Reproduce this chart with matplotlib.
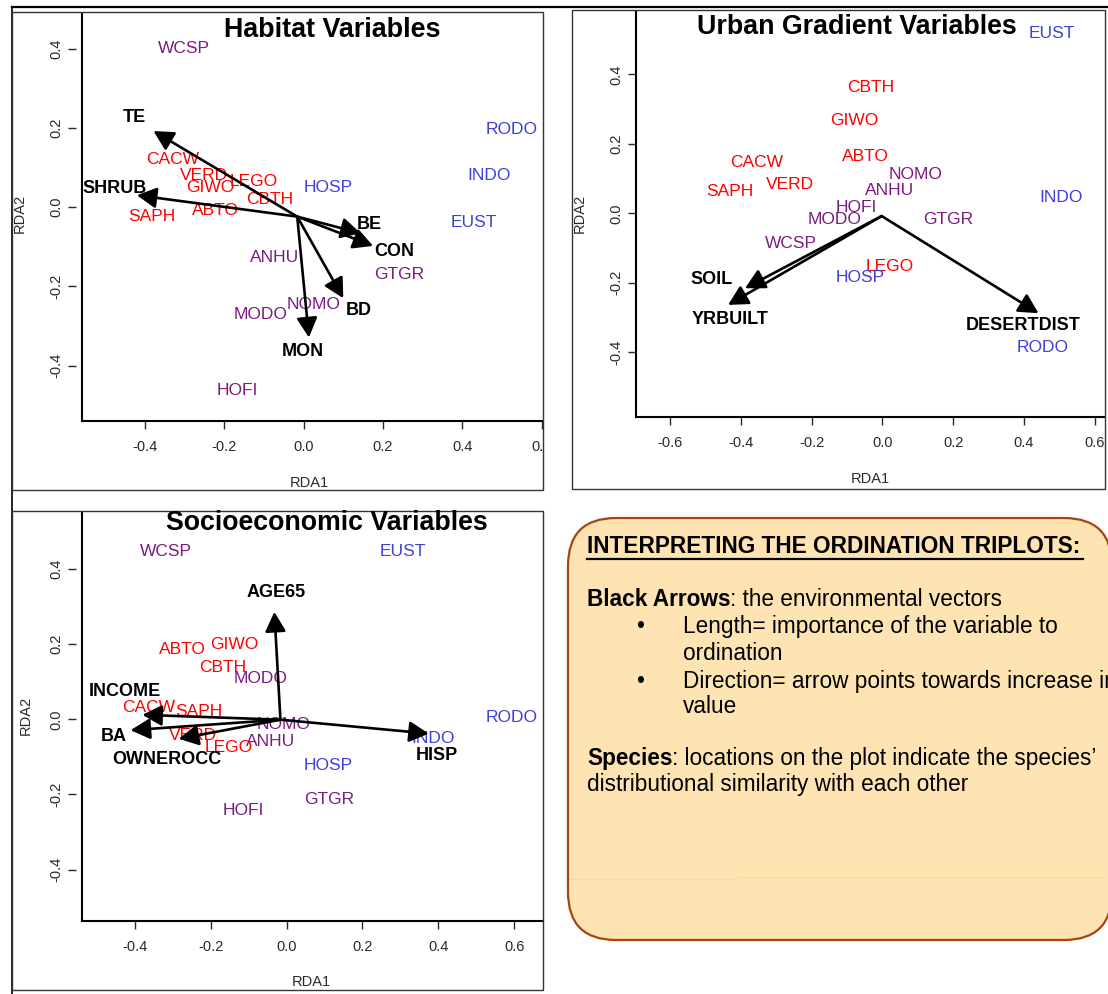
import matplotlib
matplotlib.use('Agg')
import matplotlib.pyplot as plt
from matplotlib.patches import FancyBboxPatch, Rectangle

plt.rcParams['font.family'] = ['Liberation Sans', 'DejaVu Sans']

W, H = 1108, 994

# ---------------- data ----------------
group_red = ['CACW', 'VERD', 'GIWO', 'LEGO', 'CBTH', 'SAPH', 'ABTO']
group_purple = ['WCSP', 'ANHU', 'GTGR', 'NOMO', 'MODO', 'HOFI']
group_blue = ['HOSP', 'RODO', 'INDO', 'EUST']

# Habitat Variables
hab_species = ['WCSP', 'CACW', 'VERD', 'GIWO', 'LEGO', 'CBTH', 'SAPH', 'ABTO', 'HOSP',
               'RODO', 'INDO', 'EUST', 'ANHU', 'GTGR', 'NOMO', 'MODO', 'HOFI']
hab_x = [-0.301, -0.330, -0.250, -0.234, -0.126, -0.086, -0.382, -0.221, 0.063,
         0.523, 0.466, 0.429, -0.072, 0.241, 0.024, -0.108, -0.166]
hab_y = [0.400, 0.120, 0.079, 0.050, 0.064, 0.019, -0.023, -0.008, 0.050,
         0.197, 0.079, -0.040, -0.127, -0.169, -0.245, -0.272, -0.463]
hab_vars = ['TE', 'SHRUB', 'BE', 'CON', 'BD', 'MON']
hab_vx = [-0.378, -0.420, 0.144, 0.175, 0.100, 0.0135]
hab_vy = [0.192, 0.030, -0.066, -0.098, -0.230, -0.329]
hab_lx = [-0.425, -0.475, 0.166, 0.229, 0.139, -0.002]
hab_ly = [0.226, 0.047, -0.043, -0.113, -0.262, -0.365]
hab_origin = (-0.016, -0.024)

# Urban Gradient Variables
urb_species = ['EUST', 'CBTH', 'GIWO', 'CACW', 'ABTO', 'NOMO', 'SAPH', 'VERD', 'ANHU',
               'INDO', 'HOFI', 'MODO', 'GTGR', 'WCSP', 'LEGO', 'HOSP', 'RODO']
urb_x = [0.478, -0.032, -0.080, -0.356, -0.048, 0.094, -0.430, -0.262, 0.021,
         0.506, -0.073, -0.136, 0.187, -0.257, 0.021, -0.063, 0.454]
urb_y = [0.518, 0.363, 0.267, 0.147, 0.163, 0.113, 0.064, 0.082, 0.065,
         0.046, 0.016, -0.019, -0.019, -0.088, -0.154, -0.185, -0.387]
urb_vars = ['SOIL', 'YRBUILT', 'DESERTDIST']
urb_vx = [-0.388, -0.436, 0.441]
urb_vy = [-0.216, -0.264, -0.288]
urb_lx = [-0.482, -0.431, 0.398]
urb_ly = [-0.192, -0.305, -0.324]
urb_origin = (-0.002, -0.008)

# Socioeconomic Variables
soc_species = ['WCSP', 'EUST', 'ABTO', 'GIWO', 'CBTH', 'MODO', 'CACW', 'SAPH', 'RODO',
               'NOMO', 'VERD', 'LEGO', 'ANHU', 'INDO', 'HOSP', 'GTGR', 'HOFI']
soc_x = [-0.317, 0.307, -0.275, -0.137, -0.169, -0.068, -0.364, -0.231, 0.593,
         -0.007, -0.247, -0.153, -0.042, 0.387, 0.111, 0.113, -0.115]
soc_y = [0.446, 0.446, 0.186, 0.200, 0.139, 0.108, 0.031, 0.020, 0.004,
         -0.013, -0.043, -0.074, -0.058, -0.050, -0.123, -0.213, -0.242]
soc_vars = ['AGE65', 'INCOME', 'BA', 'OWNEROCC', 'HISP']
soc_vx = [-0.032, -0.380, -0.411, -0.284, 0.375]
soc_vy = [0.286, 0.012, -0.029, -0.052, -0.038]
soc_lx = [-0.028, -0.426, -0.456, -0.314, 0.395]
soc_ly = [0.337, 0.075, -0.047, -0.107, -0.096]
soc_origin = (-0.016, -0.001)

ticks_x_hab = [-0.4, -0.2, 0.0, 0.2, 0.4, 0.6]
ticks_x_urb = [-0.6, -0.4, -0.2, 0.0, 0.2, 0.4, 0.6]
ticks_x_soc = [-0.4, -0.2, 0.0, 0.2, 0.4, 0.6]
ticks_y = [-0.4, -0.2, 0.0, 0.2, 0.4]

# ---------------- style ----------------
COL_RED = '#FF0000'
COL_PURPLE = '#7A1C7E'
COL_BLUE = '#3F3FD9'
TICKCOL = '#2a2a2a'


def species_color(s):
    if s in group_red:
        return COL_RED
    if s in group_purple:
        return COL_PURPLE
    return COL_BLUE


fig = plt.figure(figsize=(W / 100, H / 100), dpi=100)
fig.patch.set_facecolor('white')


def px_axes(l, t, r, b):
    return fig.add_axes([l / W, 1 - b / H, (r - l) / W, (b - t) / H])


def setup(ax, xlim, ylim, xt, yt, detached, ypad):
    if detached:
        ax.spines['left'].set_position(('outward', 4.5))
        ax.spines['left'].set_visible(False)
        ax.plot([0, 0], [0, 1], transform=ax.transAxes, color='black', lw=1.5,
                clip_on=False, solid_capstyle='butt')
    ax.set_xlim(*xlim)
    ax.set_ylim(*ylim)
    for s in ['top', 'right']:
        ax.spines[s].set_visible(False)
    ax.spines['bottom'].set_linewidth(1.5)
    ax.spines['left'].set_linewidth(1.5)
    ax.set_xticks(xt)
    ax.set_xticklabels([f'{v:.1f}' for v in xt])
    ax.set_yticks(yt)
    ax.set_yticklabels([f'{v:.1f}' for v in yt], rotation=90, va='center')
    ax.tick_params(axis='both', direction='out', length=5.5, width=1,
                   labelsize=10.5, colors=TICKCOL)
    ax.tick_params(axis='x', pad=8.5)
    ax.tick_params(axis='y', pad=ypad)
    ax.patch.set_alpha(0)


def draw_panel(ax, species, sx, sy, vars_, vx, vy, lx, ly, origin):
    for s, x, y in zip(species, sx, sy):
        ax.text(x, y, s, color=species_color(s), fontsize=12.5,
                ha='center', va='center', zorder=3)
    for v, x, y, tx, ty in zip(vars_, vx, vy, lx, ly):
        ax.annotate('', xy=(x, y), xytext=origin,
                    arrowprops=dict(arrowstyle='-|>,head_length=0.85,head_width=0.45',
                                    lw=1.9, color='black', shrinkA=0, shrinkB=0,
                                    mutation_scale=14), zorder=4)
        ax.text(tx, ty, v, color='black', fontsize=13, fontweight='bold',
                ha='center', va='center', zorder=5)


# Habitat panel
ax1 = px_axes(82, 13, 543, 421)
setup(ax1, (-0.558, 0.603), (-0.54, 0.49), ticks_x_hab, ticks_y, True, 3.5)
draw_panel(ax1, hab_species, hab_x, hab_y, hab_vars, hab_vx, hab_vy, hab_lx, hab_ly, hab_origin)

# Urban panel
ax2 = px_axes(636, 12, 1104, 417)
setup(ax2, (-0.696, 0.626), (-0.587, 0.58), ticks_x_urb, ticks_y, False, 3.5)
draw_panel(ax2, urb_species, urb_x, urb_y, urb_vars, urb_vx, urb_vy, urb_lx, urb_ly, urb_origin)

# Socioeconomic panel
ax3 = px_axes(82, 512, 543, 921)
setup(ax3, (-0.539, 0.676), (-0.537, 0.552), ticks_x_soc, ticks_y, True, 3.5)
draw_panel(ax3, soc_species, soc_x, soc_y, soc_vars, soc_vx, soc_vy, soc_lx, soc_ly, soc_origin)

# ---------------- overlay (pixel coordinates) ----------------
ov = fig.add_axes([0, 0, 1, 1], zorder=10)
ov.set_xlim(0, W)
ov.set_ylim(H, 0)
ov.axis('off')
ov.patch.set_visible(False)

# white gaps clipping panel edges
ov.add_patch(Rectangle((544, 0), 27.5, H, facecolor='white', edgecolor='none', zorder=1))
ov.add_patch(Rectangle((1106, 0), 3, H, facecolor='white', edgecolor='none', zorder=1))

# frames
ov.plot([12, W], [7, 7], color='black', lw=1.6, zorder=2)
ov.plot([12, 12], [7, H], color='black', lw=1.2, zorder=2)
for (l, t, r, b) in [(12, 12, 543, 490), (572, 10, 1105, 489), (12, 511, 543, 990)]:
    ov.add_patch(Rectangle((l, t), r - l, b - t, facecolor='none',
                           edgecolor='#333333', lw=1.0, zorder=2))

# titles
ov.text(332, 30, 'Habitat Variables', ha='center', va='center', fontsize=19.4,
        fontweight='bold', zorder=3)
ov.text(857, 27, 'Urban Gradient Variables', ha='center', va='center', fontsize=19.3,
        fontweight='bold', zorder=3)
ov.text(327, 523, 'Socioeconomic Variables', ha='center', va='center', fontsize=19.3,
        fontweight='bold', zorder=3)

# axis labels
for (x, y, s, rot) in [(309, 483, 'RDA1', 0), (20, 213, 'RDA2', 90),
                       (870, 479, 'RDA1', 0), (580, 213, 'RDA2', 90),
                       (311, 982, 'RDA1', 0), (26, 715, 'RDA2', 90)]:
    ov.text(x, y, s, ha='center', va='center', rotation=rot, fontsize=10.5,
            color=TICKCOL, zorder=3)

# interpretation box
box = FancyBboxPatch((568, 518), 1112 - 568, 940 - 518,
                     boxstyle='round,pad=0,rounding_size=48',
                     facecolor='#FFE4B3', edgecolor='#A8450F', lw=1.6, zorder=2)
ov.add_patch(box)
ov.plot([570, 737], [879, 879], color='#FFD98F', lw=1, zorder=2.5)
ov.plot([737, 1106], [877, 877], color='#FFD98F', lw=1, zorder=2.5)

FS = 16.3
ov.text(587, 553, 'INTERPRETING THE ORDINATION TRIPLOTS:', ha='left', va='baseline',
        fontsize=FS, fontweight='bold', zorder=3)
ov.plot([587, 1083], [559, 559], color='black', lw=1.6, zorder=3)

t1 = ov.text(587, 606, 'Black Arrows', ha='left', va='baseline', fontsize=FS,
             fontweight='bold', zorder=3)
ov.annotate(': the environmental vectors', xy=(1, 606), xycoords=(t1, 'data'),
            ha='left', va='baseline', fontsize=FS, zorder=3)
ov.text(640, 633, '\u2022', ha='center', va='baseline', fontsize=FS, zorder=3)
ov.text(683, 633, 'Length= importance of the variable to', ha='left', va='baseline',
        fontsize=FS, zorder=3)
ov.text(683, 660, 'ordination', ha='left', va='baseline', fontsize=FS, zorder=3)
ov.text(640, 688, '\u2022', ha='center', va='baseline', fontsize=FS, zorder=3)
ov.text(683, 688, 'Direction= arrow points towards increase in', ha='left',
        va='baseline', fontsize=FS, zorder=3, clip_on=True)
ov.text(683, 713, 'value', ha='left', va='baseline', fontsize=FS, zorder=3)
t2 = ov.text(587, 765, 'Species', ha='left', va='baseline', fontsize=FS,
             fontweight='bold', zorder=3)
ov.annotate(': locations on the plot indicate the species\u2019', xy=(1, 765),
            xycoords=(t2, 'data'), ha='left', va='baseline', fontsize=FS, zorder=3)
ov.text(587, 791, 'distributional similarity with each other', ha='left',
        va='baseline', fontsize=FS, zorder=3)

fig.savefig('out.png', dpi=100, facecolor='white')
